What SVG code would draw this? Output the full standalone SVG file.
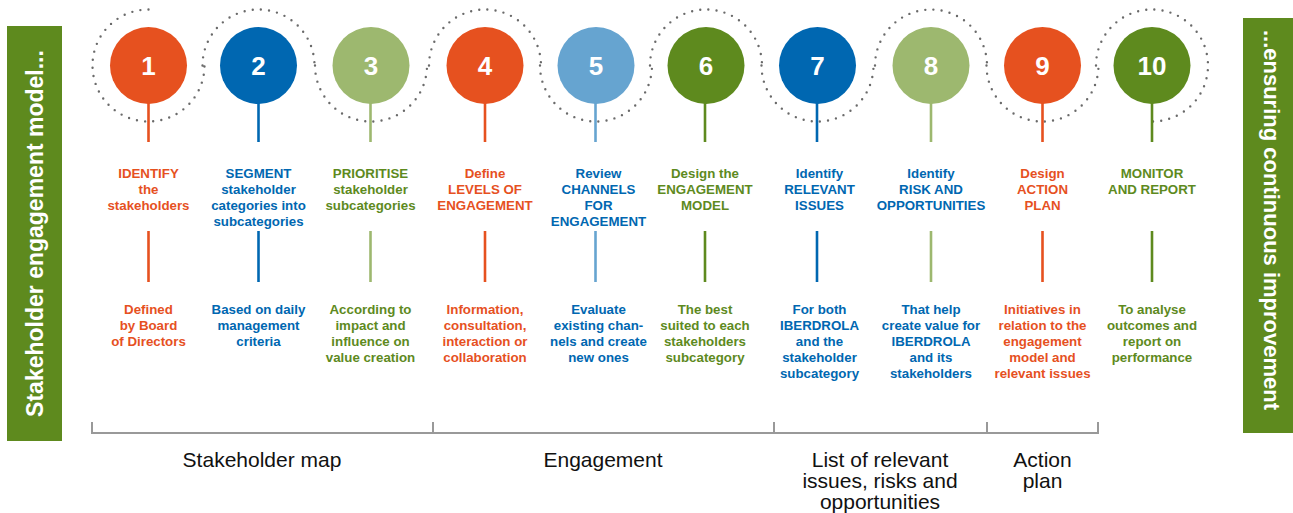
<svg xmlns="http://www.w3.org/2000/svg" width="1293" height="513" viewBox="0 0 1293 513">
  <style>
    .t { font-family: "Liberation Sans", Arial, sans-serif; font-weight: bold; font-size: 13.3px; text-anchor: middle; }
    .num { font-family: "Liberation Sans", Arial, sans-serif; font-weight: bold; font-size: 26px; text-anchor: middle; fill: #ffffff; }
    .side { font-family: "Liberation Sans", Arial, sans-serif; font-weight: bold; font-size: 23px; text-anchor: middle; fill: #ffffff; }
    .lbl { font-family: "Liberation Sans", Arial, sans-serif; font-size: 21px; text-anchor: middle; fill: #111111; }
    .or { fill: #E6511F; } .bl { fill: #0067B1; } .gr { fill: #5E8A1E; }
    .s-or { stroke: #E6511F; } .s-bl { stroke: #0067B1; } .s-lg { stroke: #9DB86F; } .s-lb { stroke: #66A4D0; } .s-dg { stroke: #5E8A1E; }
    .stem { stroke-width: 2.6; fill: none; }
    .wave { fill: none; stroke: #6a6a6a; stroke-width: 2.4; stroke-linecap: round; stroke-dasharray: 0 8.2; }
    .bracket { fill: none; stroke: #999999; stroke-width: 2; }
  </style>

  <!-- side banners -->
  <g id="banner-left">
    <rect x="7" y="26" width="55" height="415" fill="#5E8A1E"/>
    <text class="side" transform="translate(42.5,233.5) rotate(-90)">Stakeholder engagement model...</text>
  </g>
  <g id="banner-right">
    <rect x="1243" y="18" width="50" height="415" fill="#5E8A1E"/>
    <text class="side" style="font-size:22px" transform="translate(1263.5,220) rotate(90)">...ensuring continuous improvement</text>
  </g>

  <!-- dotted wave linking the steps -->
  <g id="connectors">
    <path class="wave" d="M148.5,9.5 A56,56 0 1 0 204.5,65.5
      M202.5,65.5 A56,56 0 0 1 314.5,65.5
      M315,65.5 A56,56 0 0 0 427,65.5
      M429,65.5 A56,56 0 0 1 541,65.5
      M540,65.5 A56,56 0 0 0 652,65.5
      M650,65.5 A56,56 0 0 1 762,65.5
      M761.5,65.5 A56,56 0 0 0 873.5,65.5
      M875,65.5 A56,56 0 0 1 987,65.5
      M986.5,65.5 A56,56 0 0 0 1098.5,65.5
      M1096,65.5 A56,56 0 1 1 1152,121.5"/>
  </g>

  <!-- steps -->
  <g id="step-1">
    <circle cx="148.5" cy="65.5" r="38.5" fill="#E6511F"/>
    <text class="num" x="148.5" y="75">1</text>
    <line class="stem s-or" x1="148.5" y1="103" x2="148.5" y2="142"/>
    <text class="t or"><tspan x="148.5" y="178">IDENTIFY</tspan><tspan x="148.5" dy="16">the</tspan><tspan x="148.5" dy="16">stakeholders</tspan></text>
    <line class="stem s-or" x1="148.5" y1="231" x2="148.5" y2="282"/>
    <text class="t or"><tspan x="148.5" y="314">Defined</tspan><tspan x="148.5" dy="16">by Board</tspan><tspan x="148.5" dy="16">of Directors</tspan></text>
  </g>

  <g id="step-2">
    <circle cx="258.5" cy="65.5" r="38.5" fill="#0067B1"/>
    <text class="num" x="258.5" y="75">2</text>
    <line class="stem s-bl" x1="258.5" y1="103" x2="258.5" y2="142"/>
    <text class="t bl"><tspan x="258.5" y="178">SEGMENT</tspan><tspan x="258.5" dy="16">stakeholder</tspan><tspan x="258.5" dy="16">categories into</tspan><tspan x="258.5" dy="16">subcategories</tspan></text>
    <line class="stem s-bl" x1="258.5" y1="231" x2="258.5" y2="282"/>
    <text class="t bl"><tspan x="258.5" y="314">Based on daily</tspan><tspan x="258.5" dy="16">management</tspan><tspan x="258.5" dy="16">criteria</tspan></text>
  </g>

  <g id="step-3">
    <circle cx="371" cy="65.5" r="38.5" fill="#9DB86F"/>
    <text class="num" x="371" y="75">3</text>
    <line class="stem s-lg" x1="370.5" y1="103" x2="370.5" y2="142"/>
    <text class="t gr"><tspan x="370.5" y="178">PRIORITISE</tspan><tspan x="370.5" dy="16">stakeholder</tspan><tspan x="370.5" dy="16">subcategories</tspan></text>
    <line class="stem s-lg" x1="370.5" y1="231" x2="370.5" y2="282"/>
    <text class="t gr"><tspan x="370.5" y="314">According to</tspan><tspan x="370.5" dy="16">impact and</tspan><tspan x="370.5" dy="16">influence on</tspan><tspan x="370.5" dy="16">value creation</tspan></text>
  </g>

  <g id="step-4">
    <circle cx="485" cy="65.5" r="38.5" fill="#E6511F"/>
    <text class="num" x="485" y="75">4</text>
    <line class="stem s-or" x1="485" y1="103" x2="485" y2="142"/>
    <text class="t or"><tspan x="485" y="178">Define</tspan><tspan x="485" dy="16">LEVELS OF</tspan><tspan x="485" dy="16">ENGAGEMENT</tspan></text>
    <line class="stem s-or" x1="485" y1="231" x2="485" y2="282"/>
    <text class="t or"><tspan x="485" y="314">Information,</tspan><tspan x="485" dy="16">consultation,</tspan><tspan x="485" dy="16">interaction or</tspan><tspan x="485" dy="16">collaboration</tspan></text>
  </g>

  <g id="step-5">
    <circle cx="596" cy="65.5" r="38.5" fill="#66A4D0"/>
    <text class="num" x="596" y="75">5</text>
    <line class="stem s-lb" x1="595.5" y1="103" x2="595.5" y2="142"/>
    <text class="t bl"><tspan x="598.5" y="178">Review</tspan><tspan x="598.5" dy="16">CHANNELS</tspan><tspan x="598.5" dy="16">FOR</tspan><tspan x="598.5" dy="16">ENGAGEMENT</tspan></text>
    <line class="stem s-lb" x1="595.5" y1="231" x2="595.5" y2="282"/>
    <text class="t bl"><tspan x="598.5" y="314">Evaluate</tspan><tspan x="598.5" dy="16">existing chan-</tspan><tspan x="598.5" dy="16">nels and create</tspan><tspan x="598.5" dy="16">new ones</tspan></text>
  </g>

  <g id="step-6">
    <circle cx="706" cy="65.5" r="38.5" fill="#5E8A1E"/>
    <text class="num" x="706" y="75">6</text>
    <line class="stem s-dg" x1="705" y1="103" x2="705" y2="142"/>
    <text class="t gr"><tspan x="705" y="178">Design the</tspan><tspan x="705" dy="16">ENGAGEMENT</tspan><tspan x="705" dy="16">MODEL</tspan></text>
    <line class="stem s-dg" x1="705" y1="231" x2="705" y2="282"/>
    <text class="t gr"><tspan x="705" y="314">The best</tspan><tspan x="705" dy="16">suited to each</tspan><tspan x="705" dy="16">stakeholders</tspan><tspan x="705" dy="16">subcategory</tspan></text>
  </g>

  <g id="step-7">
    <circle cx="817.5" cy="65.5" r="38.5" fill="#0067B1"/>
    <text class="num" x="817.5" y="75">7</text>
    <line class="stem s-bl" x1="817" y1="103" x2="817" y2="142"/>
    <text class="t bl"><tspan x="819.5" y="178">Identify</tspan><tspan x="819.5" dy="16">RELEVANT</tspan><tspan x="819.5" dy="16">ISSUES</tspan></text>
    <line class="stem s-bl" x1="817" y1="231" x2="817" y2="282"/>
    <text class="t bl"><tspan x="819.5" y="314">For both</tspan><tspan x="819.5" dy="16">IBERDROLA</tspan><tspan x="819.5" dy="16">and the</tspan><tspan x="819.5" dy="16">stakeholder</tspan><tspan x="819.5" dy="16">subcategory</tspan></text>
  </g>

  <g id="step-8">
    <circle cx="931" cy="65.5" r="38.5" fill="#9DB86F"/>
    <text class="num" x="931" y="75">8</text>
    <line class="stem s-lg" x1="931" y1="103" x2="931" y2="142"/>
    <text class="t bl"><tspan x="931" y="178">Identify</tspan><tspan x="931" dy="16">RISK AND</tspan><tspan x="931" dy="16">OPPORTUNITIES</tspan></text>
    <line class="stem s-lg" x1="931" y1="231" x2="931" y2="282"/>
    <text class="t bl"><tspan x="931" y="314">That help</tspan><tspan x="931" dy="16">create value for</tspan><tspan x="931" dy="16">IBERDROLA</tspan><tspan x="931" dy="16">and its</tspan><tspan x="931" dy="16">stakeholders</tspan></text>
  </g>

  <g id="step-9">
    <circle cx="1042.5" cy="65.5" r="38.5" fill="#E6511F"/>
    <text class="num" x="1042.5" y="75">9</text>
    <line class="stem s-or" x1="1042.5" y1="103" x2="1042.5" y2="142"/>
    <text class="t or"><tspan x="1042.5" y="178">Design</tspan><tspan x="1042.5" dy="16">ACTION</tspan><tspan x="1042.5" dy="16">PLAN</tspan></text>
    <line class="stem s-or" x1="1042.5" y1="231" x2="1042.5" y2="282"/>
    <text class="t or"><tspan x="1042.5" y="314">Initiatives in</tspan><tspan x="1042.5" dy="16">relation to the</tspan><tspan x="1042.5" dy="16">engagement</tspan><tspan x="1042.5" dy="16">model and</tspan><tspan x="1042.5" dy="16">relevant issues</tspan></text>
  </g>

  <g id="step-10">
    <circle cx="1152" cy="65.5" r="38.5" fill="#5E8A1E"/>
    <text class="num" x="1152" y="75">10</text>
    <line class="stem s-dg" x1="1152" y1="103" x2="1152" y2="142"/>
    <text class="t gr"><tspan x="1152" y="178">MONITOR</tspan><tspan x="1152" dy="16">AND REPORT</tspan></text>
    <line class="stem s-dg" x1="1152" y1="231" x2="1152" y2="282"/>
    <text class="t gr"><tspan x="1152" y="314">To analyse</tspan><tspan x="1152" dy="16">outcomes and</tspan><tspan x="1152" dy="16">report on</tspan><tspan x="1152" dy="16">performance</tspan></text>
  </g>

  <!-- phase brackets -->
  <g id="phases">
    <path class="bracket" d="M92,422 V433 H1098 V422 M433,422 V433 M774,422 V433 M987,422 V433"/>
    <text class="lbl" x="262" y="467">Stakeholder map</text>
    <text class="lbl" x="603" y="467">Engagement</text>
    <text class="lbl"><tspan x="880" y="467">List of relevant</tspan><tspan x="880" dy="21">issues, risks and</tspan><tspan x="880" dy="21">opportunities</tspan></text>
    <text class="lbl"><tspan x="1042.5" y="467">Action</tspan><tspan x="1042.5" dy="21">plan</tspan></text>
  </g>
</svg>
